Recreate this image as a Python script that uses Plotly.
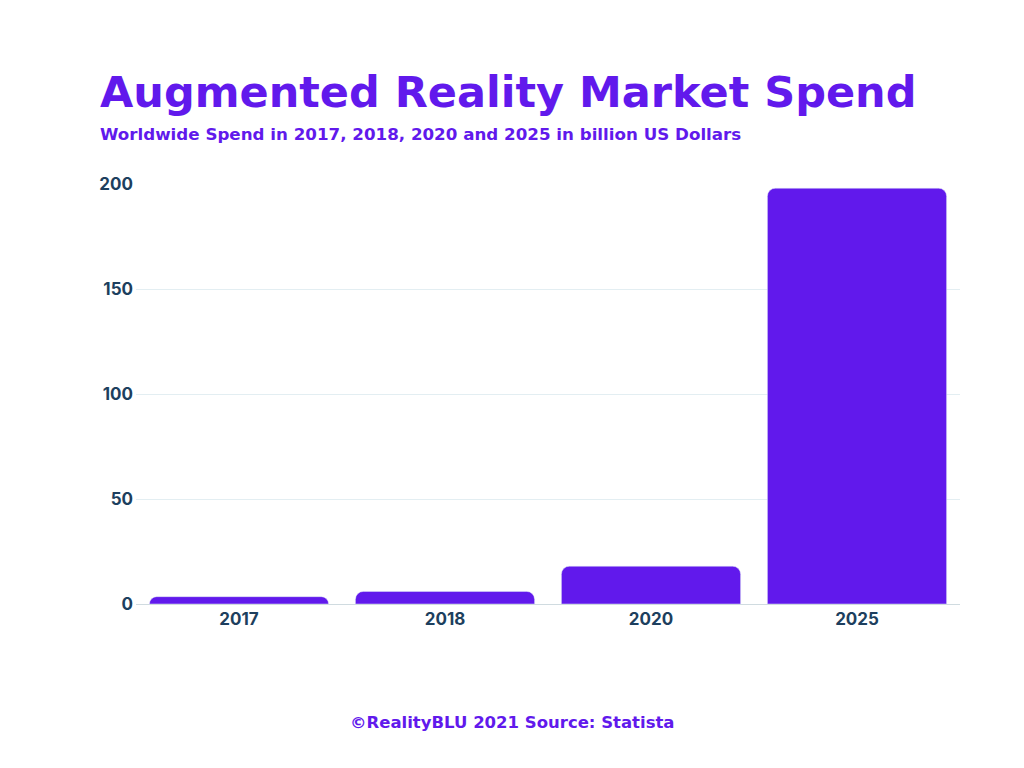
import plotly.graph_objects as go

years = ["2017", "2018", "2020", "2025"]
spend = [3.5, 6.0, 18.0, 198.0]
yticks = [0, 50, 100, 150, 200]

purple = "#6119EC"
L, R, T, B = 128, 72, 176, 172
W, H = 1024, 768
fig = go.Figure(go.Bar(x=years, y=spend, marker=dict(color=purple, cornerradius=8)))
fig.update_layout(
    width=W, height=H, plot_bgcolor="white", paper_bgcolor="white",
    margin=dict(l=L, r=R, t=T, b=B), bargap=0.13, showlegend=False,
    font=dict(family="Inter"),
)
fig.update_yaxes(range=[0, 200], tickvals=yticks, showgrid=True, gridcolor="#e3eef2",
                 tickfont=dict(size=17, color="#1d3f5e", family="Inter", weight="bold"),
                 ticks="", zeroline=False, ticklabelstandoff=2)
fig.update_xaxes(showline=True, linecolor="#d0dbe0",
                 tickfont=dict(size=17, color="#1d3f5e", family="Inter", weight="bold"))

def ann(text, px, py, size, anchor="left"):
    fig.add_annotation(text=text, xref="paper", yref="paper",
                       x=(px - L) / (W - L - R), y=(H - B - (py - 8)) / (H - T - B),
                       showarrow=False, xanchor=anchor, yanchor="middle",
                       font=dict(size=size, color=purple, family="DejaVu Sans", weight="bold"))

ann("Augmented Reality Market Spend", 90, 92, 43)
ann("Worldwide Spend in 2017, 2018, 2020 and 2025 in billion US Dollars", 90, 134, 16.7)
ann("©RealityBLU 2021 Source: Statista", 504, 722, 16.5, "center")
fig.write_html("out.html")
